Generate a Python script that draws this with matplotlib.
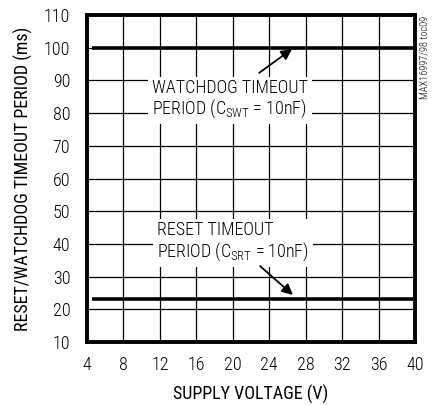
import matplotlib
matplotlib.use("Agg")
import matplotlib.pyplot as plt

fam = 'Roboto Condensed'
plt.rcParams['font.family'] = [fam, 'DejaVu Sans']
plt.rcParams['font.weight'] = 'light'
plt.rcParams['mathtext.fontset'] = 'custom'
plt.rcParams['mathtext.rm'] = fam + ':light'
plt.rcParams['mathtext.it'] = fam + ':light'

# data
voltage = [4.5, 40]
watchdog_ms = [100, 100]
reset_ms = [23, 23]
xticks = [4, 8, 12, 16, 20, 24, 28, 32, 36, 40]
yticks = [10, 20, 30, 40, 50, 60, 70, 80, 90, 100, 110]

FS = 13

fig = plt.figure(figsize=(4.35, 4.05), dpi=100)
ax = fig.add_axes([87/435, 1-342/405, 328/435, 327/405])
ax.set_xlim(4, 40)
ax.set_ylim(10, 110)
ax.set_xticks(xticks)
ax.set_yticks(yticks)
ax.tick_params(length=0, labelsize=FS)
ax.tick_params(axis='y', pad=12)
ax.tick_params(axis='x', pad=10)
ax.grid(True, color='black', linewidth=0.9)
ax.set_axisbelow(True)
for s in ax.spines.values():
    s.set_linewidth(2.8)

ax.plot(voltage, watchdog_ms, color='black', lw=2.6, solid_capstyle='butt', zorder=3)
ax.plot(voltage, reset_ms, color='black', lw=2.6, solid_capstyle='butt', zorder=3)

ax.text(11.1, 84.2, 'WATCHDOG TIMEOUT\nPERIOD (C$_{\\mathrm{SWT}}$ = 10nF)', fontsize=FS,
        ha='left', va='center', linespacing=1.05,
        bbox=dict(facecolor='white', edgecolor='none', pad=3), zorder=4)
ax.text(11.7, 40.6, 'RESET TIMEOUT\nPERIOD (C$_{\\mathrm{SRT}}$ = 10nF)', fontsize=FS,
        ha='left', va='center', linespacing=1.05,
        bbox=dict(facecolor='white', edgecolor='none', pad=3), zorder=4)

ax.annotate('', xy=(26.5, 99.6), xytext=(22.9, 92.3),
            arrowprops=dict(arrowstyle='-|>', color='black', lw=1.3, mutation_scale=16,
                            shrinkA=0, shrinkB=0), zorder=5)
ax.annotate('', xy=(26.6, 24.4), xytext=(23.0, 33.2),
            arrowprops=dict(arrowstyle='-|>', color='black', lw=1.3, mutation_scale=16,
                            shrinkA=0, shrinkB=0), zorder=5)

ax.set_xlabel('SUPPLY VOLTAGE (V)', fontsize=FS, labelpad=8)
ax.set_ylabel('RESET/WATCHDOG TIMEOUT PERIOD (ms)', fontsize=FS, labelpad=8)

fig.text(425/435, 1-57/405, 'MAX16997/98 toc09', rotation=90, fontsize=7.5,
         ha='center', va='center')

fig.savefig('out.png', dpi=100)
